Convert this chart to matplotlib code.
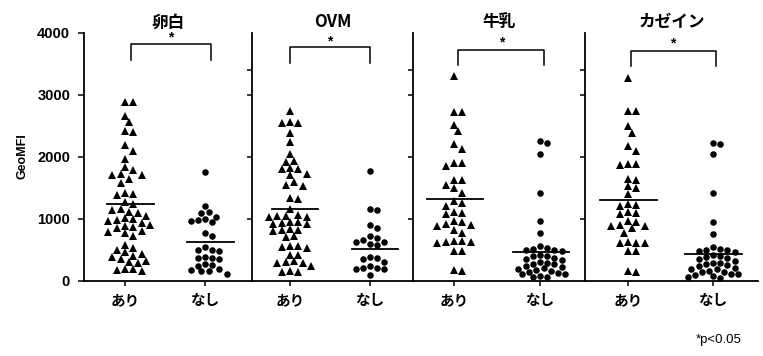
import numpy as np
import matplotlib
matplotlib.use('Agg')
import matplotlib.pyplot as plt

# --- data ---
panels = ['卵白', 'OVM', '牛乳', 'カゼイン']
groups = ['あり', 'なし']

egg_ari = [2890, 2880, 2660, 2560, 2420, 2400, 2190, 2100, 1970, 1830, 1780, 1720,
           1710, 1700, 1640, 1580, 1410, 1390, 1380, 1270, 1230, 1160, 1140, 1110,
           1090, 1050, 1010, 990, 980, 960, 930, 900, 880, 860, 850, 800, 780, 760,
           720, 580, 520, 490, 460, 430, 400, 380, 350, 320, 300, 280, 190, 180, 170, 160]
egg_nashi = [1760, 1200, 1100, 1090, 1030, 1000, 980, 960, 940, 760, 720, 540, 500,
             490, 480, 380, 370, 360, 350, 260, 250, 240, 180, 170, 160, 150, 110]

ovm_ari = [2740, 2560, 2550, 2540, 2390, 2240, 2040, 1930, 1920, 1820, 1810, 1800,
           1720, 1700, 1600, 1540, 1530, 1330, 1320, 1150, 1060, 1050, 1040, 1030,
           1020, 950, 940, 930, 920, 910, 830, 820, 810, 800, 720, 700, 560, 550,
           540, 530, 420, 410, 310, 300, 290, 280, 230, 150, 140, 130]
ovm_nashi = [1770, 1150, 1140, 900, 850, 720, 690, 650, 630, 620, 590, 570, 380,
             360, 350, 300, 230, 210, 200, 190, 180, 90]

milk_ari = [3310, 2720, 2720, 2520, 2420, 2200, 2120, 1900, 1900, 1850, 1630, 1630,
            1550, 1500, 1420, 1280, 1250, 1200, 1100, 1090, 1080, 960, 950, 910, 900,
            880, 820, 770, 640, 640, 630, 620, 600, 470, 470, 170, 150]
milk_nashi = [2250, 2220, 2050, 1420, 960, 770, 560, 520, 510, 500, 490, 470, 420,
              400, 390, 370, 350, 330, 300, 290, 270, 260, 240, 220, 200, 190, 170,
              150, 140, 120, 110, 100, 80, 60, 50]

casein_ari = [3280, 2740, 2740, 2500, 2390, 2170, 2100, 1880, 1880, 1870, 1640, 1630,
              1520, 1500, 1390, 1230, 1220, 1200, 1100, 1090, 1080, 960, 950, 890, 880,
              880, 850, 770, 620, 610, 600, 600, 470, 470, 160, 140]
casein_nashi = [2230, 2200, 2040, 1420, 940, 750, 540, 510, 500, 490, 480, 460, 410,
                390, 380, 360, 340, 320, 290, 280, 260, 250, 230, 210, 190, 180, 160,
                140, 130, 110, 100, 90, 70, 60, 40]

median_ari = [1230, 1150, 1320, 1300]
median_nashi = [620, 510, 460, 430]

ari_sets = [egg_ari, ovm_ari, milk_ari, casein_ari]
nashi_sets = [egg_nashi, ovm_nashi, milk_nashi, casein_nashi]

# --- layout ---
W, H = 763, 356
ax_px = [(84, 252), (252, 413), (413, 585), (585, 758)]
xlims = [(-0.5125, 1.5875), (-0.475, 1.5375), (-0.477, 1.523), (-0.506, 1.529)]
y_bot, y_top = 280.5, 33
bracket_top = [3820, 3780, 3730, 3710]
bracket_leg = [3570, 3520, 3480, 3470]
bracket_shift = [0.07, 0, 0.05, 0.03]
star_y = [3930, 3870, 3850, 3830]
med_span = [(-0.23, 0.36), (-0.22, 0.35), (-0.32, 0.34), (-0.33, 0.34)]

jp = ['Noto Sans CJK JP', 'DejaVu Sans']
num = ['Liberation Sans', 'DejaVu Sans']

ypx_per_unit = (y_bot - y_top) / 4000


def swarm(vals, ppu, d_px, step_px):
    # beeswarm in pixel space, offsets on a half-column grid
    v = np.sort(np.asarray(vals, dtype=float))[::-1]
    yp = v * ypx_per_unit
    cands = [0.0]
    for n in range(1, 12):
        cands += [n * step_px, -n * step_px]
    px, py, out = [], [], []
    for y in yp:
        for c in cands:
            ok = True
            for a, b in zip(px, py):
                if (a - c) ** 2 + (b - y) ** 2 < d_px ** 2:
                    ok = False
                    break
            if ok:
                break
        px.append(c)
        py.append(y)
        out.append(c / ppu)
    return np.array(out), v


fig = plt.figure(figsize=(W / 100, H / 100), dpi=100)
fig.patch.set_facecolor('white')

for k in range(4):
    l, r = ax_px[k]
    ax = fig.add_axes([l / W, 1 - y_bot / H, (r - l) / W, (y_bot - y_top) / H])
    x0, x1 = xlims[k]
    ax.set_xlim(x0, x1)
    ax.set_ylim(0, 4000)
    ppu = (r - l) / (x1 - x0)

    xs, ys = swarm(ari_sets[k], ppu, 7.2, 4.2)
    ax.plot(0 + xs, ys, '^', color='black', markersize=5.7, markeredgewidth=0,
            clip_on=False)
    xs, ys = swarm(nashi_sets[k], ppu, 6.3, 3.6)
    ax.plot(1 + xs, ys, 'o', color='black', markersize=4.7, markeredgewidth=0,
            clip_on=False)

    a, b = med_span[k]
    ax.plot([a, b], [median_ari[k]] * 2, color='black', lw=1.3)
    ax.plot([1 + a, 1 + b], [median_nashi[k]] * 2, color='black', lw=1.3)

    s = bracket_shift[k]
    ax.plot([s, s, 1 + s, 1 + s],
            [bracket_leg[k], bracket_top[k], bracket_top[k], bracket_leg[k]],
            color='black', lw=1.1, clip_on=False)
    ax.text(0.5 + s, star_y[k], '*', ha='center', va='center', fontsize=10,
            family=num, fontweight='bold')

    ax.set_title(panels[k], fontsize=12, family=jp, fontweight='bold', pad=4)

    for sp in ['top', 'right']:
        ax.spines[sp].set_visible(False)
    ax.spines['left'].set_linewidth(1.3)
    ax.spines['bottom'].set_linewidth(1.3)

    ax.set_xticks([0, 1])
    ax.set_xticklabels(groups, family=jp, fontsize=10.5, fontweight='bold')
    ax.tick_params(axis='x', length=3.5, width=1.1, pad=5)

    if k == 0:
        ax.set_yticks([0, 1000, 2000, 3000, 4000])
        ax.set_yticklabels(['0', '1000', '2000', '3000', '4000'], family=num,
                           fontsize=10.5, fontweight='bold')
        ax.tick_params(axis='y', length=4, width=1.1, pad=6)
    else:
        ax.set_yticks([1000, 2000, 3000, 3400])
        ax.set_yticklabels([])
        ax.tick_params(axis='y', length=3.5, width=1.1)
    ax.patch.set_alpha(0)

fig.text(22 / W, 1 - 156 / H, 'GeoMFI', rotation=90, ha='center', va='center',
         fontsize=9, fontweight='bold', family=num)
fig.text(742 / W, 1 - 340 / H, '*p<0.05', ha='right', va='center', fontsize=9.5,
         family=num)

fig.savefig('out.png', dpi=100)
